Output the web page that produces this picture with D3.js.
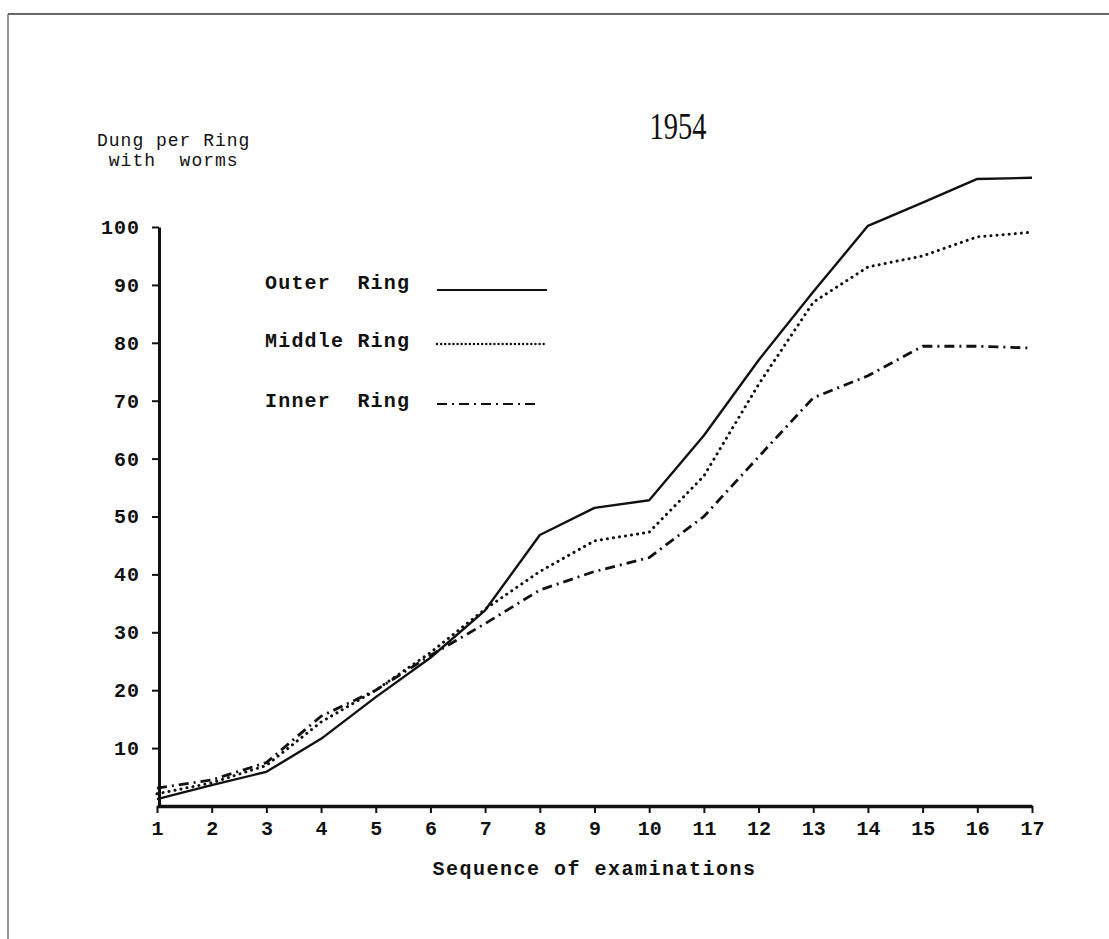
<!DOCTYPE html>
<html><head><meta charset="utf-8">
<script src="https://cdn.jsdelivr.net/npm/d3@7"></script>
<style>
html,body{margin:0;padding:0;background:#fff;}
svg{display:block;}
.tw{font-family:"Liberation Mono","DejaVu Sans Mono",monospace;font-weight:bold;fill:#111;}
</style></head>
<body><svg id="c" width="1109" height="939"></svg>
<script>
const examinations = [1,2,3,4,5,6,7,8,9,10,11,12,13,14,15,16,17];
const outerRing  = [1.2,3.6,5.9,11.6,18.8,25.6,33.8,46.8,51.5,52.8,64,77,88.8,100.2,104.2,108.3,108.5];
const middleRing = [2.1,4.0,7.0,14.5,20.0,26.5,34.0,40.5,45.8,47.3,57,72.8,87,93.1,95,98.3,99.1];
const innerRing  = [3.1,4.5,7.5,15.5,20.0,26.0,31.5,37.3,40.5,42.9,50,60.3,70.5,74.3,79.4,79.4,79.1];
const yTicks = [10,20,30,40,50,60,70,80,90,100];
const seriesNames = ["Outer  Ring","Middle Ring","Inner  Ring"];
const titleText = "1954";
const yLabel = ["Dung per Ring"," with  worms"];
const xLabel = "Sequence of examinations";

const svg = d3.select("#c");
const x = d3.scaleLinear().domain([1,17]).range([157,1032]);
const y = d3.scaleLinear().domain([0,100]).range([806,227]);

// page frame
svg.append("line").attr("x1",8).attr("x2",1109).attr("y1",14).attr("y2",14).attr("stroke","#333").attr("stroke-width",1.5);
svg.append("line").attr("x1",8).attr("x2",8).attr("y1",14).attr("y2",939).attr("stroke","#555").attr("stroke-width",1.2);

// title
svg.append("text").attr("transform","translate(678,139) scale(0.75,1)").attr("text-anchor","middle")
  .style("font-family","'Liberation Serif','Times New Roman',serif").style("font-size","38px").attr("fill","#111").text(titleText);

// y label
svg.append("text").attr("class","tw").attr("x",97).attr("y",146).style("font-size","18px").style("font-weight","normal").attr("letter-spacing","1px").text(yLabel[0]);
svg.append("text").attr("class","tw").attr("x",97).attr("y",166).style("font-size","18px").style("font-weight","normal").attr("letter-spacing","1px").attr("xml:space","preserve").text(yLabel[1]);

// axes
const yAxis = d3.axisLeft(y).tickValues(yTicks).tickSize(7).tickSizeOuter(0).tickPadding(12);
const gy = svg.append("g").attr("transform","translate(159,0)").call(yAxis);
gy.select(".domain").attr("stroke","#111").attr("stroke-width",3);
gy.selectAll(".tick line").attr("stroke","#111").attr("stroke-width",2);
gy.selectAll(".tick text").attr("class","tw").style("font-size","20px").attr("letter-spacing","1px").attr("fill","#111");

const xAxis = d3.axisBottom(x).tickValues(examinations).tickSize(7).tickSizeOuter(0).tickPadding(8);
const gx = svg.append("g").attr("transform","translate(0,806)").call(xAxis);
gx.select(".domain").attr("stroke","#111").attr("stroke-width",3.5);
gx.selectAll(".tick line").attr("stroke","#111").attr("stroke-width",2);
gx.selectAll(".tick text").attr("class","tw").style("font-size","20px").attr("fill","#111");

svg.append("text").attr("class","tw").attr("x",x(9)).attr("y",875).attr("text-anchor","middle")
  .style("font-size","20px").attr("letter-spacing","1.5px").text(xLabel);

// lines
const styles = [
  {data:outerRing, dash:null, w:2.4, cap:"butt"},
  {data:middleRing, dash:"0.1,6", w:3, cap:"round"},
  {data:innerRing, dash:"10,5,2,5", w:2.8, cap:"butt"}
];
const line = d3.line().x((d,i)=>x(examinations[i])).y(d=>y(d));
styles.forEach(s=>{
  svg.append("path").datum(s.data).attr("d",line).attr("fill","none").attr("stroke","#111")
    .attr("stroke-width",s.w).attr("stroke-linecap",s.cap).attr("stroke-linejoin","round")
    .attr("stroke-dasharray",s.dash);
});

// legend
const legY = [289,347,407];
seriesNames.forEach((n,i)=>{
  svg.append("text").attr("class","tw").attr("x",265).attr("y",legY[i]).attr("xml:space","preserve")
    .style("font-size","20px").attr("letter-spacing","1.2px").text(n);
  svg.append("line").attr("x1",437).attr("x2",i===2?540:547).attr("y1",legY[i]+(i===0?1:-3)).attr("y2",legY[i]+(i===0?1:-3))
    .attr("stroke","#111").attr("stroke-width",styles[i].w*0.8).attr("stroke-linecap",styles[i].cap)
    .attr("stroke-dasharray",i===1?"0.1,4":styles[i].dash);
});
</script></body></html>
